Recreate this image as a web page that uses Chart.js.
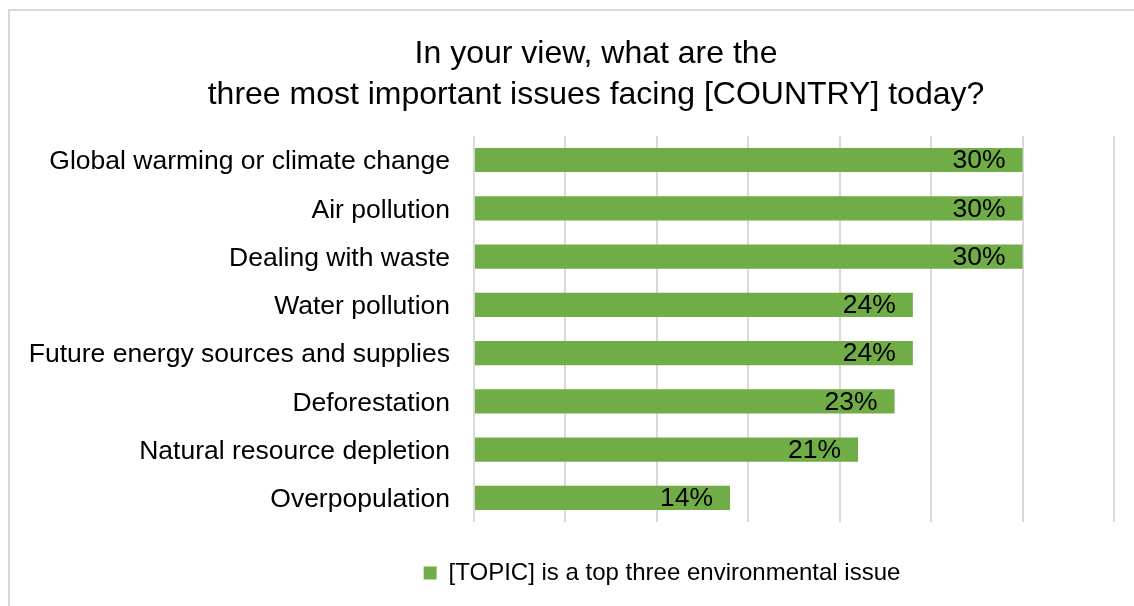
<!DOCTYPE html>
<html>
<head>
<meta charset="utf-8">
<script src="https://cdn.jsdelivr.net/npm/chart.js@4"></script>
<style>
  body { margin: 0; background: #fff; overflow: hidden; }
  #graficaContainer {
    position: absolute;
    left: 8px;
    top: 9px;
    width: 1172px;
    height: 620px;
    border: 2px solid #d9d9d9;
  }
</style>
</head>
<body>
<div id="graficaContainer">
  <canvas id="myChart" width="1172" height="620"></canvas>
</div>
<script>
//datos
let temas = [
  "Global warming or climate change",
  "Air pollution",
  "Dealing with waste",
  "Water pollution",
  "Future energy sources and supplies",
  "Deforestation",
  "Natural resource depletion",
  "Overpopulation",
];
let porcentajes = [30, 30, 30, 24, 24, 23, 21, 14];
let serie = "[TOPIC] is a top three environmental issue";
let titulo = ["In your view, what are the", "three most important issues facing [COUNTRY] today?"];

const fuente = '"Liberation Sans", Arial, sans-serif';

// etiquetas dentro del final de cada barra
const etiquetas = {
  id: "etiquetas",
  afterDatasetsDraw(chart) {
    const ctx = chart.ctx;
    const meta = chart.getDatasetMeta(0);
    ctx.save();
    ctx.font = "26.5px " + fuente;
    ctx.fillStyle = "#000";
    ctx.textAlign = "right";
    ctx.textBaseline = "middle";
    meta.data.forEach((bar, i) => {
      ctx.fillText(porcentajes[i] + "%", bar.x - 17, bar.y + 1);
    });
    ctx.restore();
  },
};

// titulo y leyenda no van centrados en el canvas, los muevo a mano
const moverCajas = {
  id: "moverCajas",
  afterLayout(chart) {
    chart.titleBlock.left += 34;
    chart.titleBlock.right += 34;
    chart.legend.left += 100;
    chart.legend.right += 100;
  },
};

function arrancarGrafica() {
  const data = {
    labels: temas,
    datasets: [
      {
        label: serie,
        backgroundColor: "#70ad47",
        borderWidth: 0,
        data: porcentajes,
        categoryPercentage: 0.5,
        barPercentage: 1,
      },
    ],
  };
  const config = {
    type: "bar",
    data,
    options: {
      indexAxis: "y",
      responsive: false,
      animation: false,
      layout: { padding: { left: 0, right: 68, top: 0, bottom: 36 } },
      scales: {
        x: {
          min: 0,
          max: 35,
          ticks: { display: false, stepSize: 5 },
          grid: { color: "#d9d9d9", lineWidth: 2, drawTicks: false },
          border: { display: false },
          afterFit(scale) {
            scale.height = 29;
          },
        },
        y: {
          grid: { display: false, drawTicks: false },
          border: { display: false },
          ticks: {
            color: "#000",
            font: { family: fuente, size: 26.5 },
            padding: 24,
            labelOffset: 2,
          },
          afterFit(scale) {
            scale.width = 464;
          },
        },
      },
      plugins: {
        title: {
          display: true,
          text: titulo,
          color: "#000",
          font: { family: fuente, size: 32, weight: "normal", lineHeight: 1.28 },
          padding: { top: 23, bottom: 20 },
        },
        legend: {
          position: "bottom",
          labels: {
            color: "#000",
            boxWidth: 13,
            boxHeight: 13,
            font: { family: fuente, size: 24 },
          },
        },
        tooltip: { enabled: false },
      },
    },
    plugins: [etiquetas, moverCajas],
  };

  var myChart = new Chart(document.getElementById("myChart"), config);
}

arrancarGrafica();
</script>
</body>
</html>
